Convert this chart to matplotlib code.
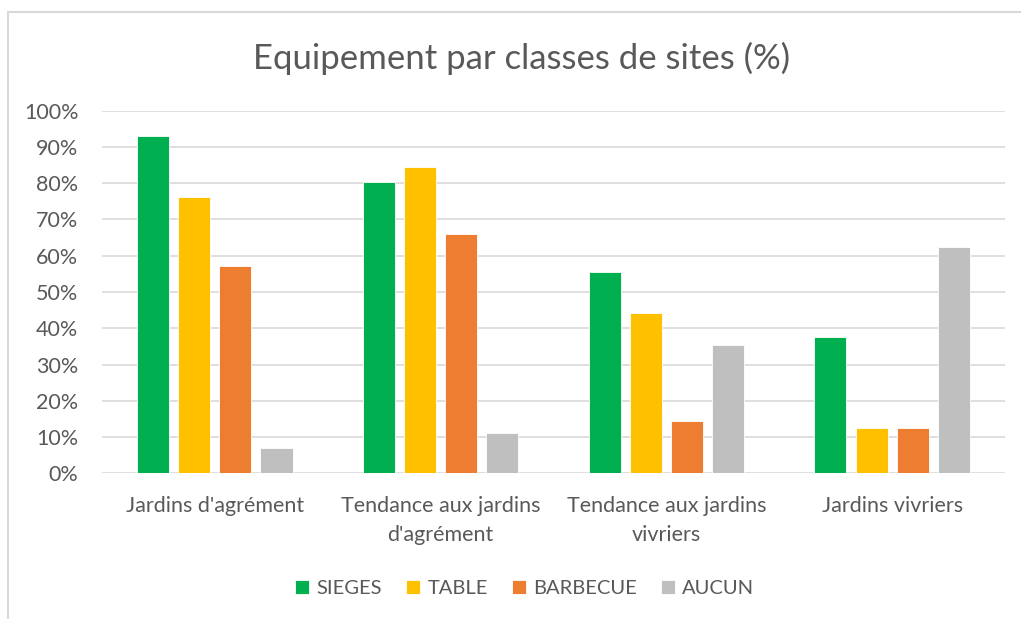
import numpy as np
import matplotlib.pyplot as plt
from matplotlib.patches import Rectangle

plt.rcParams['font.family'] = ['Lato', 'DejaVu Sans']

# Données
categories = ["Jardins d'agrément", "Tendance aux jardins\nd'agrément",
              "Tendance aux jardins\nvivriers", "Jardins vivriers"]
series = ['SIEGES', 'TABLE', 'BARBECUE', 'AUCUN']
sieges = [92.9, 80.2, 55.6, 37.5]
table = [76.2, 84.4, 44.2, 12.5]
barbecue = [57.1, 65.9, 14.5, 12.5]
aucun = [7.1, 11.1, 35.3, 62.5]
couleurs = ['#00B050', '#FFC000', '#ED7D31', '#BFBFBF']

valeurs = [sieges, table, barbecue, aucun]

fig = plt.figure(figsize=(10.21, 6.19), dpi=100)
ax = fig.add_axes([0.0999, 0.2354, 0.8844, 0.5858])

# cadre du graphique (coupé à droite et en bas)
fig.patches.append(Rectangle((8 / 1021, -0.05), 1.1, 1 - 12 / 619 + 0.05,
                             transform=fig.transFigure, fill=False,
                             edgecolor='#d9d9d9', linewidth=1.5))

x = np.arange(len(categories))
pas = 0.182
largeur = 0.142
for j, (nom, vals) in enumerate(zip(series, valeurs)):
    ax.bar(x + (j - 1.5) * pas, vals, width=largeur, color=couleurs[j],
           edgecolor='white', linewidth=0.6, label=nom, zorder=3)

ax.set_xlim(-0.5, len(categories) - 0.5)
ax.set_ylim(0, 100)
ax.set_yticks(np.arange(0, 101, 10))
ax.set_yticklabels([f'{v}%' for v in range(0, 101, 10)])
ax.set_xticks(x)
ax.set_xticklabels(categories, linespacing=1.6)
ax.grid(axis='y', color='#d9d9d9', linewidth=1.2, zorder=0)
for s in ax.spines.values():
    s.set_visible(False)
ax.tick_params(axis='both', length=0, colors='#595959', labelsize=15.5)
ax.tick_params(axis='x', pad=16)
ax.tick_params(axis='y', pad=17)

fig.text(0.511, 0.906, 'Equipement par classes de sites (%)', ha='center',
         va='center', fontsize=25, color='#595959')

fig.legend(loc='center', bbox_to_anchor=(0.514, 0.05), ncol=4, frameon=False,
           fontsize=14.5, labelcolor='#595959', handlelength=0.7,
           handleheight=0.7, handletextpad=0.35, columnspacing=1.2)

fig.savefig('out.png', dpi=100)
